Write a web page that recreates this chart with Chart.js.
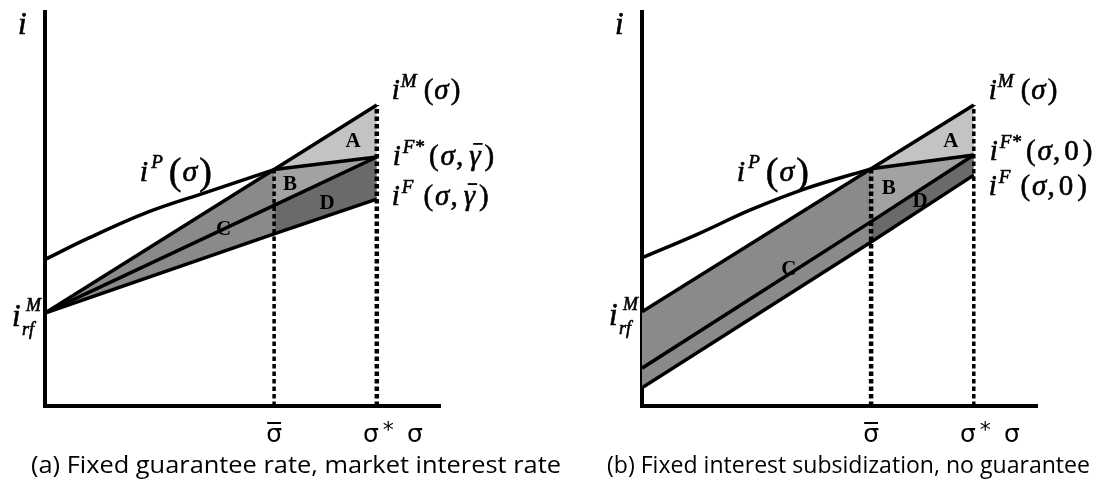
<!DOCTYPE html>
<html>
<head>
<meta charset="utf-8">
<script src="https://cdn.jsdelivr.net/npm/chart.js@4.4.1/dist/chart.umd.min.js"></script>
<style>
  html, body { margin: 0; padding: 0; background: #fff; }
  #wrap { position: relative; width: 1104px; height: 486px; overflow: hidden; background: #fff; }
  canvas { position: absolute; top: 0; }
  #panelA { left: 0; }
  #panelB { left: 552px; }
  .cap { position: absolute; top: 449px; font-family: "Open Sans", "Noto Sans", sans-serif; font-size: 24px;
         line-height: 30px; color: #000; white-space: nowrap; transform-origin: 0 0; }
</style>
</head>
<body>
<div id="wrap">
  <canvas id="panelA" width="552" height="486"></canvas>
  <canvas id="panelB" width="552" height="486"></canvas>
  <div class="cap" id="capA"></div>
  <div class="cap" id="capB"></div>
</div>
<script>
// Risk levels on the horizontal axis
const SIGMA_BAR = 5.8;
const SIGMA_STAR = 8.4;
const knots = [0, SIGMA_BAR, SIGMA_STAR];
const tickLabels = ['σ', 'σ', '*', 'σ'];   // σ̄ (bar drawn separately), σ*, axis name

// Panel (a): fixed guarantee rate, market interest rate
const aMarket = [2.36, 6.0, 7.64];          // i^M(σ)
const aFStar = [2.36, 5.09, 6.32];          // i^F*(σ, γ̄)
const aFund = [2.36, 4.37, 5.25];           // i^F(σ, γ̄)
const aPrivSigma = [0, 1.1, 2.6, 4.1, SIGMA_BAR];
const aPriv = [3.72, 4.26, 4.92, 5.43, 6.0];   // i^P(σ) up to σ̄
const aPrivTail = [6.0, 6.32];                  // i^P(σ) from σ̄ to σ*

// Panel (b): fixed interest subsidization, no guarantee
const bMarket = [2.39, 6.02, 7.64];
const bFStar = [0.96, 4.68, 6.37];
const bFund = [0.46, 4.16, 5.86];
const bPrivSigma = [0, 1.47, 2.73, 4.18, SIGMA_BAR];
const bPriv = [3.76, 4.39, 4.97, 5.53, 6.02];
const bPrivTail = [6.02, 6.37];

const captions = ['(a) Fixed guarantee rate, market interest rate',
                  '(b) Fixed interest subsidization, no guarantee'];

const SERIF = '"Liberation Serif", "Times New Roman", "DejaVu Serif", serif';
const IT = s => `italic ${s}px ${SERIF}`;
const RM = s => `${s}px ${SERIF}`;
const BD = s => `bold ${s}px ${SERIF}`;

function pts(xs, ys) { return xs.map((x, k) => ({ x, y: ys[k] })); }

function line(data, width, extra) {
  return Object.assign({ data, borderColor: '#000', borderWidth: width, pointRadius: 0,
    fill: false, tension: 0, borderCapStyle: 'butt', borderJoinStyle: 'round' }, extra || {});
}
function area(data, target, color) {
  return { data, borderWidth: 0, borderColor: 'rgba(0,0,0,0)', pointRadius: 0,
    fill: target, backgroundColor: color, tension: 0 };
}

// draw a run of text pieces: [text, font, gapBefore, dy]; strokes lightly for a heavier face
function runs(ctx, x, y, list) {
  let cx = x;
  const pos = [];
  for (const r of list) {
    cx += r[2] || 0;
    ctx.font = r[1];
    ctx.fillText(r[0], cx, y + (r[3] || 0));
    ctx.strokeText(r[0], cx, y + (r[3] || 0));
    const w = ctx.measureText(r[0]).width;
    pos.push([cx, w]);
    cx += w;
  }
  return pos;
}

function buildPanel(canvasId, p) {
  const lo = [knots[0], knots[1]], hi = [knots[1], knots[2]];
  const datasets = [
    line(pts(knots, p.market), 3.5),                                   // 0 i^M
    line(pts(knots, p.fstar), 3.5),                                    // 1 i^F*
    line(pts(knots, p.fund), 3.5),                                     // 2 i^F
    line(pts(p.privSigma, p.priv), 3.5, { tension: 0.35 }),            // 3 i^P
    line(pts(hi, p.privTail), 3.5),                                    // 4 i^P tail
    line(pts([SIGMA_BAR, SIGMA_BAR], [0, p.privTail[0]]), p.dotBar, { borderDash: [4.5, 3] }),   // 5
    line(pts([SIGMA_STAR, SIGMA_STAR], [0, p.market[2]]), p.dotStar, { borderDash: [4.5, 3] }),  // 6
    area(pts(lo, p.market.slice(0, 2)), 8, '#8a8a8a'),                 // 7 C top
    area(pts(lo, p.fund.slice(0, 2)), false, 'rgba(0,0,0,0)'),         // 8 C bottom
    area(pts(hi, p.market.slice(1)), 10, '#c3c3c3'),                   // 9 A top
    area(pts(hi, p.privTail), false, 'rgba(0,0,0,0)'),                 // 10 A bottom
    area(pts(hi, p.privTail), 12, '#a2a2a2'),                          // 11 B top
    area(pts(hi, p.fstar.slice(1)), false, 'rgba(0,0,0,0)'),           // 12 B bottom
    area(pts(hi, p.fstar.slice(1)), 14, '#6a6a6a'),                    // 13 D top
    area(pts(hi, p.fund.slice(1)), false, 'rgba(0,0,0,0)')             // 14 D bottom
  ];

  const labels = {
    id: 'labels',
    afterDraw(chart) {
      const ctx = chart.ctx, xs = chart.scales.x, ys = chart.scales.y, ca = chart.chartArea;
      const X = v => xs.getPixelForValue(v), Y = v => ys.getPixelForValue(v);
      ctx.save();
      ctx.fillStyle = '#000';
      ctx.strokeStyle = '#000';
      ctx.lineWidth = 0.6;
      ctx.textBaseline = 'alphabetic';
      ctx.textAlign = 'left';

      // vertical axis name
      runs(ctx, ca.left - 27, 34, [['i', IT(31)]]);
      // risk-free market rate at the intercept
      const yr = Y(p.market[0]);
      runs(ctx, ca.left - 33, yr + 13, [['i', IT(31)]]);
      runs(ctx, ca.left - 19, yr - 2, [['M', IT(18)]]);
      runs(ctx, ca.left - 23, yr + 22, [['rf', IT(18)]]);

      // curve labels at the right end
      const xr = X(SIGMA_STAR) + 15;
      runs(ctx, xr, Y(p.market[2]) + p.off[0], [['i', IT(29)], ['M', IT(19), 1, -12], ['(', RM(29), 7], ['σ', IT(29), 1], [')', RM(29), 2]]);
      const third = p.zero ? [['0', RM(29), 4]] : [['γ', IT(29), 6]];
      const yfs = Y(p.fstar[2]) + p.off[1], yf = Y(p.fund[2]) + p.off[2];
      let q = runs(ctx, xr + 1, yfs, [['i', IT(29)], ['F*', IT(19), 2, -12], ['(', RM(29), 5], ['σ', IT(29), 2], [',', RM(29), 1]].concat(third, [[')', RM(29), 4]]));
      if (!p.zero) { const g = q[5]; ctx.fillRect(g[0] + 4, yfs - 22, g[1] - 2, 1.8); }
      q = runs(ctx, xr, yf, [['i', IT(29)], ['F', IT(19), 2, -12], ['(', RM(29), 10], ['σ', IT(29), 2], [',', RM(29), 1]].concat(third, [[')', RM(29), 4]]));
      if (!p.zero) { const g = q[5]; ctx.fillRect(g[0] + 4, yf - 22, g[1] - 2, 1.8); }

      // private lending curve label
      runs(ctx, X(p.pLabel[0]), Y(p.pLabel[1]), [['i', IT(30)], ['P', IT(19), 3, -13], ['(', RM(38), 6, 3], ['σ', IT(30), 1], [')', RM(38), 2, 3]]);

      // region letters
      ctx.textAlign = 'center';
      ctx.textBaseline = 'middle';
      ctx.font = BD(21);
      for (const [t, sx, iy] of p.regions) ctx.fillText(t, X(sx), Y(iy));

      // horizontal axis marks
      ctx.textAlign = 'left';
      ctx.textBaseline = 'alphabetic';
      const SANS = '"DejaVu Sans", "Liberation Sans", sans-serif';
      ctx.font = `25px ${SANS}`;
      const yb = ca.bottom + 36;
      const wb = ctx.measureText(tickLabels[0]).width;
      const xb = X(SIGMA_BAR) - wb / 2;
      ctx.fillText(tickLabels[0], xb, yb);
      ctx.fillRect(xb + 1, yb - 20, wb - 2, 2);
      const ws = ctx.measureText(tickLabels[1]).width;
      const xs0 = X(SIGMA_STAR) - ws / 2 - 6;
      ctx.fillText(tickLabels[1], xs0, yb);
      ctx.font = `22px ${SANS}`;
      ctx.fillText(tickLabels[2], xs0 + ws + 4, yb - 5);
      ctx.font = `25px ${SANS}`;
      ctx.fillText(tickLabels[3], ca.right - 33, yb);
      ctx.restore();
    }
  };

  return new Chart(document.getElementById(canvasId), {
    type: 'line',
    data: { datasets },
    options: {
      responsive: false, animation: false, devicePixelRatio: 1, events: [],
      layout: { padding: p.pad },
      plugins: { legend: { display: false }, tooltip: { enabled: false }, filler: { drawTime: 'beforeDatasetsDraw' } },
      scales: {
        x: { type: 'linear', min: 0, max: 10, z: 1, grid: { display: false }, ticks: { display: false },
             border: { display: true, color: '#000', width: 4 }, afterFit(s) { s.height = 0; } },
        y: { type: 'linear', min: 0, max: 10, z: 1, grid: { display: false }, ticks: { display: false },
             border: { display: true, color: '#000', width: 4 }, afterFit(s) { s.width = 0; } }
      }
    },
    plugins: [labels]
  });
}

buildPanel('panelA', {
  pad: { left: 45, right: 112, top: 12, bottom: 80 },
  market: aMarket, fstar: aFStar, fund: aFund,
  privSigma: aPrivSigma, priv: aPriv, privTail: aPrivTail,
  dotBar: 3.5, dotStar: 4.5, zero: false, pLabel: [2.4, 5.7], off: [-6, 8, 6],
  regions: [['A', 7.8, 6.7], ['B', 6.2, 5.63], ['C', 4.52, 4.47], ['D', 7.14, 5.13]]
});
buildPanel('panelB', {
  pad: { left: 90, right: 67, top: 12, bottom: 80 },
  market: bMarket, fstar: bFStar, fund: bFund,
  privSigma: bPrivSigma, priv: bPriv, privTail: bPrivTail,
  dotBar: 4.5, dotStar: 3.5, zero: true, pLabel: [2.4, 5.7], off: [-6, 5, 20],
  regions: [['A', 7.82, 6.7], ['B', 6.25, 5.51], ['C', 3.72, 3.45], ['D', 7.04, 5.18]]
});

// captions, condensed to the column width
const capA = document.getElementById('capA'), capB = document.getElementById('capB');
capA.textContent = captions[0];
capB.textContent = captions[1];
function fit(el, left, width) {
  el.style.left = left + 'px';
  const w = el.getBoundingClientRect().width;
  el.style.transform = `scaleX(${width / w})`;
}
fit(capA, 31, 530);
fit(capB, 607, 483);
</script>
</body>
</html>
